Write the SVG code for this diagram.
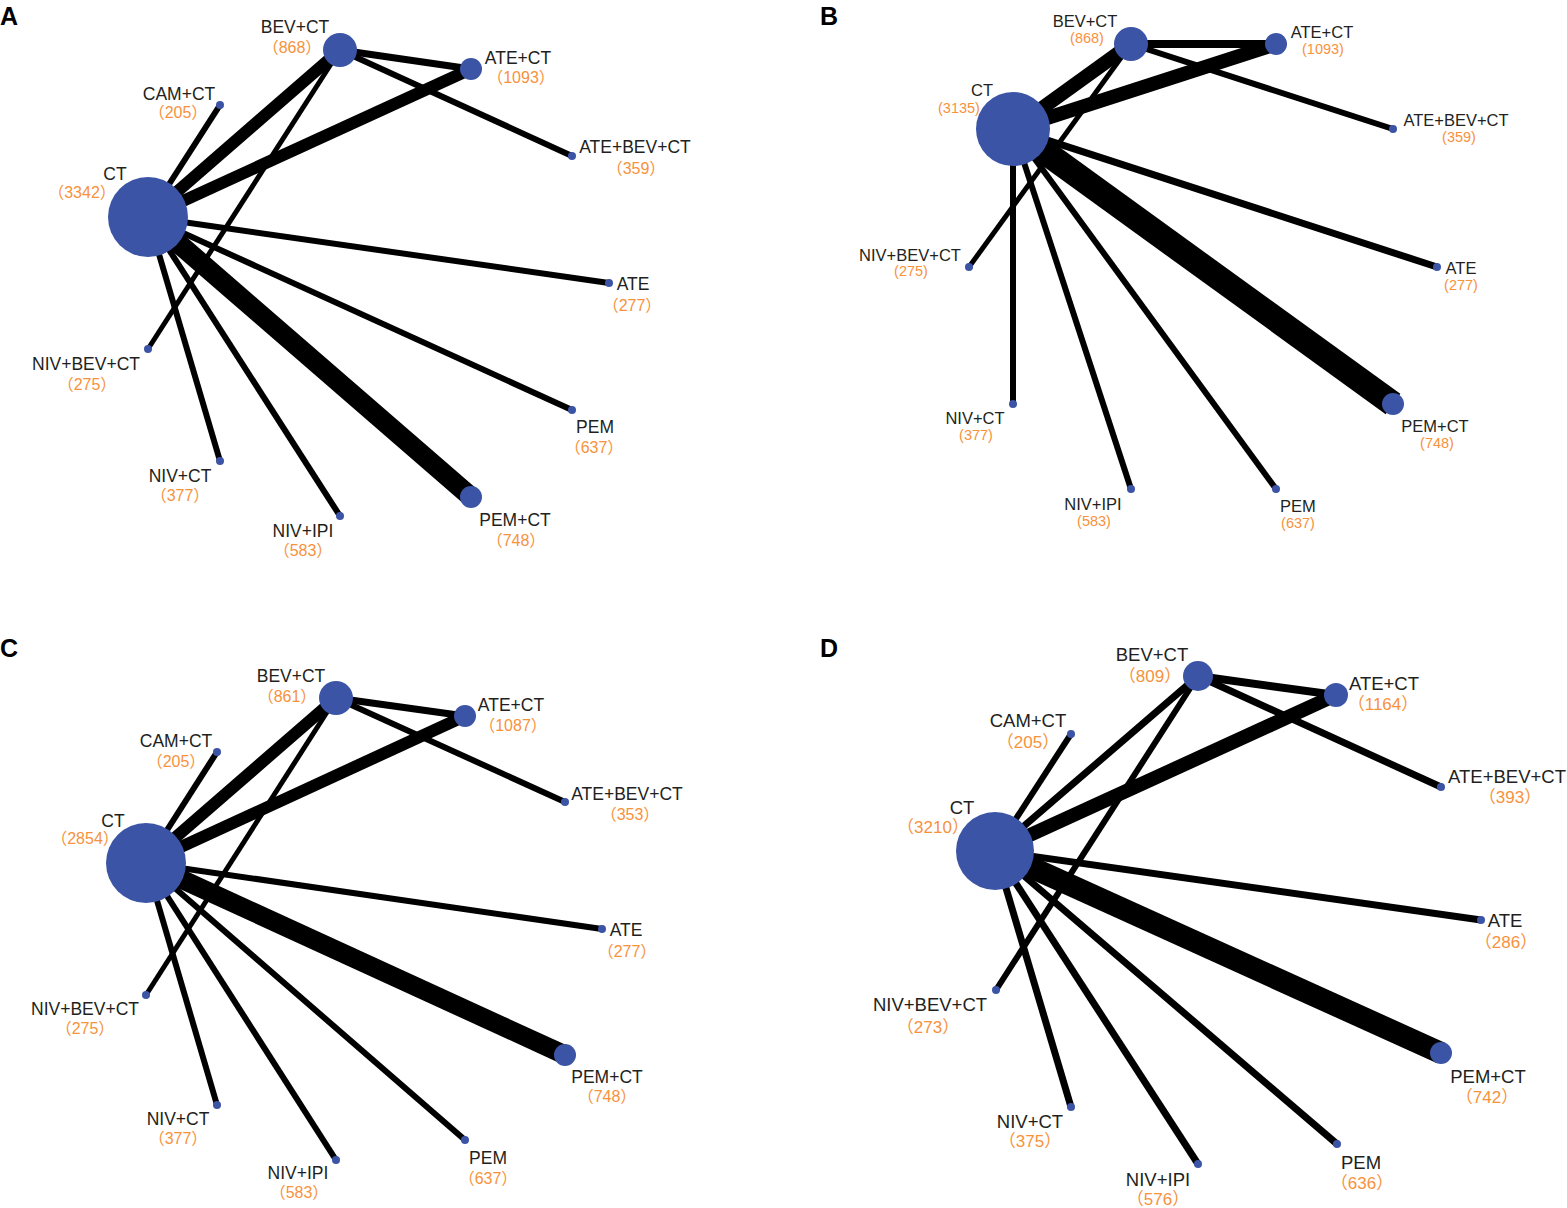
<svg xmlns="http://www.w3.org/2000/svg" width="1567" height="1208" viewBox="0 0 1567 1208">
<style>
.bg{fill:#ffffff}
.e{stroke:#000000;stroke-linecap:butt;fill:none}
.n{fill:#3B54A5}
.t{font-family:"Liberation Sans",Arial,"Noto Sans CJK SC",sans-serif;text-anchor:middle}
.lb{fill:#231F20;font-size:17.5px}
.ln{fill:#F7923C;font-size:16px}
.lbs{fill:#231F20;font-size:16.5px}
.lns{fill:#F7923C;font-size:14.5px}
.lbd{fill:#231F20;font-size:18.5px}
.lnd{fill:#F7923C;font-size:17px}
.pl{font-family:"Liberation Sans",Arial,sans-serif;font-weight:bold;font-size:25px;fill:#000}
</style>
<rect class="bg" x="0" y="0" width="1567" height="1208"/>

<text class="pl" x="0" y="25">A</text>
<text class="pl" x="820" y="25">B</text>
<text class="pl" x="0" y="657">C</text>
<text class="pl" x="820" y="657">D</text>

<g id="connectors">
  <!-- Panel A -->
  <g id="edges-A">
    <line class="e" x1="148" y1="217" x2="340" y2="50" stroke-width="12"/>
    <line class="e" x1="148" y1="217" x2="220" y2="105" stroke-width="6"/>
    <line class="e" x1="148" y1="217" x2="471" y2="69" stroke-width="12"/>
    <line class="e" x1="340" y1="50" x2="471" y2="69" stroke-width="7"/>
    <line class="e" x1="340" y1="50" x2="572" y2="156" stroke-width="6"/>
    <line class="e" x1="340" y1="50" x2="148" y2="349" stroke-width="5"/>
    <line class="e" x1="148" y1="217" x2="609" y2="283" stroke-width="6"/>
    <line class="e" x1="148" y1="217" x2="572" y2="410" stroke-width="6"/>
    <line class="e" x1="148" y1="217" x2="471" y2="497" stroke-width="20"/>
    <line class="e" x1="148" y1="217" x2="340" y2="516" stroke-width="6"/>
    <line class="e" x1="148" y1="217" x2="220" y2="461" stroke-width="6"/>
  </g>
  <!-- Panel B -->
  <g id="edges-B">
    <line class="e" x1="1013" y1="129" x2="1131" y2="44" stroke-width="14"/>
    <line class="e" x1="1013" y1="129" x2="1276" y2="44" stroke-width="14"/>
    <line class="e" x1="1131" y1="44" x2="1276" y2="44" stroke-width="8"/>
    <line class="e" x1="1131" y1="44" x2="1393" y2="129" stroke-width="6"/>
    <line class="e" x1="1131" y1="44" x2="969" y2="267" stroke-width="5"/>
    <line class="e" x1="1013" y1="129" x2="1437" y2="267" stroke-width="7"/>
    <line class="e" x1="1013" y1="129" x2="1393" y2="404" stroke-width="25"/>
    <line class="e" x1="1013" y1="129" x2="1276" y2="489" stroke-width="6"/>
    <line class="e" x1="1013" y1="129" x2="1131" y2="489" stroke-width="6"/>
    <line class="e" x1="1013" y1="129" x2="1013" y2="404" stroke-width="6"/>
  </g>
  <!-- Panel C -->
  <g id="edges-C">
    <line class="e" x1="146" y1="863" x2="336" y2="698" stroke-width="12"/>
    <line class="e" x1="146" y1="863" x2="217" y2="752" stroke-width="6"/>
    <line class="e" x1="146" y1="863" x2="465" y2="716" stroke-width="12"/>
    <line class="e" x1="336" y1="698" x2="465" y2="716" stroke-width="7"/>
    <line class="e" x1="336" y1="698" x2="565" y2="802" stroke-width="6"/>
    <line class="e" x1="336" y1="698" x2="146" y2="995" stroke-width="5"/>
    <line class="e" x1="146" y1="863" x2="602" y2="929" stroke-width="6"/>
    <line class="e" x1="146" y1="863" x2="565" y2="1055" stroke-width="19"/>
    <line class="e" x1="146" y1="863" x2="465" y2="1140" stroke-width="6"/>
    <line class="e" x1="146" y1="863" x2="336" y2="1160" stroke-width="6"/>
    <line class="e" x1="146" y1="863" x2="217" y2="1105" stroke-width="6"/>
  </g>
  <!-- Panel D -->
  <g id="edges-D">
    <line class="e" x1="995" y1="851" x2="1198" y2="676" stroke-width="7"/>
    <line class="e" x1="995" y1="851" x2="1071" y2="734" stroke-width="6"/>
    <line class="e" x1="995" y1="851" x2="1336" y2="695" stroke-width="14"/>
    <line class="e" x1="1198" y1="676" x2="1336" y2="695" stroke-width="8"/>
    <line class="e" x1="1198" y1="676" x2="1441" y2="787" stroke-width="7"/>
    <line class="e" x1="1198" y1="676" x2="996" y2="990" stroke-width="6"/>
    <line class="e" x1="995" y1="851" x2="1481" y2="920" stroke-width="7"/>
    <line class="e" x1="995" y1="851" x2="1441" y2="1053" stroke-width="22"/>
    <line class="e" x1="995" y1="851" x2="1337" y2="1144" stroke-width="7"/>
    <line class="e" x1="995" y1="851" x2="1198" y2="1164" stroke-width="7"/>
    <line class="e" x1="995" y1="851" x2="1071" y2="1107" stroke-width="7"/>
  </g>
</g>

<!-- Panel A nodes -->
<g id="A-CT"><circle class="n" cx="148" cy="217" r="40"/><text class="t lb" x="115" y="180">CT</text><text class="t ln" x="82" y="198">（3342）</text></g>
<g id="A-BEVCT"><circle class="n" cx="340" cy="50" r="17"/><text class="t lb" x="295" y="33">BEV+CT</text><text class="t ln" x="292" y="53">（868）</text></g>
<g id="A-CAMCT"><circle class="n" cx="220" cy="105" r="4"/><text class="t lb" x="179" y="100">CAM+CT</text><text class="t ln" x="178" y="118">（205）</text></g>
<g id="A-ATECT"><circle class="n" cx="471" cy="69" r="11"/><text class="t lb" x="518" y="64">ATE+CT</text><text class="t ln" x="521" y="83">（1093）</text></g>
<g id="A-ATEBEVCT"><circle class="n" cx="572" cy="156" r="4"/><text class="t lb" x="635" y="153">ATE+BEV+CT</text><text class="t ln" x="636" y="174">（359）</text></g>
<g id="A-ATE"><circle class="n" cx="609" cy="283" r="4"/><text class="t lb" x="633" y="290">ATE</text><text class="t ln" x="632" y="311">（277）</text></g>
<g id="A-PEM"><circle class="n" cx="572" cy="410" r="4"/><text class="t lb" x="595" y="433">PEM</text><text class="t ln" x="594" y="453">（637）</text></g>
<g id="A-PEMCT"><circle class="n" cx="471" cy="497" r="11"/><text class="t lb" x="515" y="526">PEM+CT</text><text class="t ln" x="516" y="546">（748）</text></g>
<g id="A-NIVIPI"><circle class="n" cx="340" cy="516" r="4"/><text class="t lb" x="303" y="537">NIV+IPI</text><text class="t ln" x="303" y="556">（583）</text></g>
<g id="A-NIVCT"><circle class="n" cx="220" cy="461" r="4"/><text class="t lb" x="180" y="482">NIV+CT</text><text class="t ln" x="180" y="501">（377）</text></g>
<g id="A-NIVBEVCT"><circle class="n" cx="148" cy="349" r="4"/><text class="t lb" x="86" y="370">NIV+BEV+CT</text><text class="t ln" x="87" y="390">（275）</text></g>

<!-- Panel B nodes -->
<g id="B-CT"><circle class="n" cx="1013" cy="129" r="37"/><text class="t lbs" x="982" y="96">CT</text><text class="t lns" x="959" y="113">(3135)</text></g>
<g id="B-BEVCT"><circle class="n" cx="1131" cy="44" r="17"/><text class="t lbs" x="1085" y="27">BEV+CT</text><text class="t lns" x="1087" y="43">(868)</text></g>
<g id="B-ATECT"><circle class="n" cx="1276" cy="44" r="11"/><text class="t lbs" x="1322" y="38">ATE+CT</text><text class="t lns" x="1323" y="54">(1093)</text></g>
<g id="B-ATEBEVCT"><circle class="n" cx="1393" cy="129" r="4"/><text class="t lbs" x="1456" y="126">ATE+BEV+CT</text><text class="t lns" x="1459" y="142">(359)</text></g>
<g id="B-ATE"><circle class="n" cx="1437" cy="267" r="4"/><text class="t lbs" x="1461" y="274">ATE</text><text class="t lns" x="1461" y="290">(277)</text></g>
<g id="B-PEMCT"><circle class="n" cx="1393" cy="404" r="11"/><text class="t lbs" x="1435" y="432">PEM+CT</text><text class="t lns" x="1437" y="448">(748)</text></g>
<g id="B-PEM"><circle class="n" cx="1276" cy="489" r="4"/><text class="t lbs" x="1298" y="512">PEM</text><text class="t lns" x="1298" y="528">(637)</text></g>
<g id="B-NIVIPI"><circle class="n" cx="1131" cy="489" r="4"/><text class="t lbs" x="1093" y="510">NIV+IPI</text><text class="t lns" x="1094" y="526">(583)</text></g>
<g id="B-NIVCT"><circle class="n" cx="1013" cy="404" r="4"/><text class="t lbs" x="975" y="424">NIV+CT</text><text class="t lns" x="976" y="440">(377)</text></g>
<g id="B-NIVBEVCT"><circle class="n" cx="969" cy="267" r="4"/><text class="t lbs" x="910" y="261">NIV+BEV+CT</text><text class="t lns" x="911" y="276">(275)</text></g>

<!-- Panel C nodes -->
<g id="C-CT"><circle class="n" cx="146" cy="863" r="40"/><text class="t lb" x="113" y="827">CT</text><text class="t ln" x="85" y="844">（2854）</text></g>
<g id="C-BEVCT"><circle class="n" cx="336" cy="698" r="17"/><text class="t lb" x="291" y="682">BEV+CT</text><text class="t ln" x="287" y="702">（861）</text></g>
<g id="C-CAMCT"><circle class="n" cx="217" cy="752" r="4"/><text class="t lb" x="176" y="747">CAM+CT</text><text class="t ln" x="176" y="767">（205）</text></g>
<g id="C-ATECT"><circle class="n" cx="465" cy="716" r="11"/><text class="t lb" x="511" y="711">ATE+CT</text><text class="t ln" x="513" y="731">（1087）</text></g>
<g id="C-ATEBEVCT"><circle class="n" cx="565" cy="802" r="4"/><text class="t lb" x="627" y="800">ATE+BEV+CT</text><text class="t ln" x="630" y="820">（353）</text></g>
<g id="C-ATE"><circle class="n" cx="602" cy="929" r="4"/><text class="t lb" x="626" y="936">ATE</text><text class="t ln" x="627" y="957">（277）</text></g>
<g id="C-PEMCT"><circle class="n" cx="565" cy="1055" r="11"/><text class="t lb" x="607" y="1083">PEM+CT</text><text class="t ln" x="607" y="1102">（748）</text></g>
<g id="C-PEM"><circle class="n" cx="465" cy="1140" r="4"/><text class="t lb" x="488" y="1164">PEM</text><text class="t ln" x="488" y="1184">（637）</text></g>
<g id="C-NIVIPI"><circle class="n" cx="336" cy="1160" r="4"/><text class="t lb" x="298" y="1179">NIV+IPI</text><text class="t ln" x="299" y="1198">（583）</text></g>
<g id="C-NIVCT"><circle class="n" cx="217" cy="1105" r="4"/><text class="t lb" x="178" y="1125">NIV+CT</text><text class="t ln" x="178" y="1144">（377）</text></g>
<g id="C-NIVBEVCT"><circle class="n" cx="146" cy="995" r="4"/><text class="t lb" x="85" y="1015">NIV+BEV+CT</text><text class="t ln" x="85" y="1034">（275）</text></g>

<!-- Panel D nodes -->
<g id="D-CT"><circle class="n" cx="995" cy="851" r="39"/><text class="t lbd" x="962" y="814">CT</text><text class="t lnd" x="933" y="833">（3210）</text></g>
<g id="D-BEVCT"><circle class="n" cx="1198" cy="676" r="15"/><text class="t lbd" x="1152" y="661">BEV+CT</text><text class="t lnd" x="1150" y="682">（809）</text></g>
<g id="D-CAMCT"><circle class="n" cx="1071" cy="734" r="4"/><text class="t lbd" x="1028" y="727">CAM+CT</text><text class="t lnd" x="1028" y="748">（205）</text></g>
<g id="D-ATECT"><circle class="n" cx="1336" cy="695" r="12"/><text class="t lbd" x="1384" y="690">ATE+CT</text><text class="t lnd" x="1383" y="710">（1164）</text></g>
<g id="D-ATEBEVCT"><circle class="n" cx="1441" cy="787" r="4"/><text class="t lbd" x="1507" y="783">ATE+BEV+CT</text><text class="t lnd" x="1510" y="803">（393）</text></g>
<g id="D-ATE"><circle class="n" cx="1481" cy="920" r="4"/><text class="t lbd" x="1505" y="927">ATE</text><text class="t lnd" x="1506" y="948">（286）</text></g>
<g id="D-PEMCT"><circle class="n" cx="1441" cy="1053" r="11"/><text class="t lbd" x="1488" y="1083">PEM+CT</text><text class="t lnd" x="1487" y="1103">（742）</text></g>
<g id="D-PEM"><circle class="n" cx="1337" cy="1144" r="4"/><text class="t lbd" x="1361" y="1169">PEM</text><text class="t lnd" x="1362" y="1189">（636）</text></g>
<g id="D-NIVIPI"><circle class="n" cx="1198" cy="1164" r="4"/><text class="t lbd" x="1158" y="1186">NIV+IPI</text><text class="t lnd" x="1158" y="1205">（576）</text></g>
<g id="D-NIVCT"><circle class="n" cx="1071" cy="1107" r="4"/><text class="t lbd" x="1030" y="1128">NIV+CT</text><text class="t lnd" x="1030" y="1147">（375）</text></g>
<g id="D-NIVBEVCT"><circle class="n" cx="996" cy="990" r="4"/><text class="t lbd" x="930" y="1011">NIV+BEV+CT</text><text class="t lnd" x="928" y="1033">（273）</text></g>
</svg>
